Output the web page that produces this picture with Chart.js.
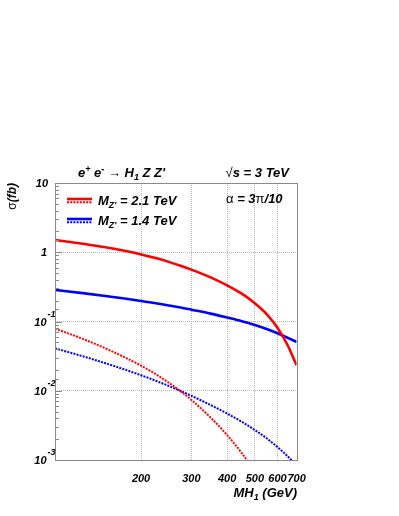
<!DOCTYPE html>
<html><head><meta charset="utf-8">
<script src="https://cdn.jsdelivr.net/npm/chart.js@4.4.1/dist/chart.umd.min.js"></script>
<style>html,body{margin:0;padding:0;background:#fff;}canvas{display:block;}</style>
</head><body>
<canvas id="c" width="399" height="516"></canvas>
<script>
// MH1 (GeV)
const mh = [100,125,150,175,200,225,250,275,300,350,400,450,500,550,600,650,700];
// sigma (fb), M_Z' = 2.1 TeV, solid
const sigmaZ21Solid = [1.50,1.327,1.178,1.048,0.931,0.823,0.726,0.639,0.561,0.433,0.333,0.252,0.184,0.128,0.0813,0.0462,0.0234];
// sigma (fb), M_Z' = 2.1 TeV, dotted
const sigmaZ21Dotted = [0.079,0.0561,0.0410,0.0305,0.0230,0.0174,0.01305,0.00984,0.00737,0.00411,0.00229,0.00126,0.00068,null,null,null,null];
// sigma (fb), M_Z' = 1.4 TeV, solid
const sigmaZ14Solid = [0.286,0.257,0.234,0.2145,0.198,0.1835,0.170,0.159,0.148,0.130,0.114,0.101,0.089,0.078,0.0678,0.0586,0.0506];
// sigma (fb), M_Z' = 1.4 TeV, dotted
const sigmaZ14Dotted = [0.041,0.0315,0.0250,0.0203,0.01675,0.01396,0.01172,0.00994,0.00845,0.00623,0.00469,0.00357,0.00271,0.00206,0.00154,0.00114,0.00084];

const xTickValues = [200,300,400,500,600,700];
const yDecadeExponents = [-3,-2,-1,0,1];
const legendMasses = ['2.1','1.4'];
const seriesColors = ['#ff0000','#0000ff'];

const FAM = '"Liberation Sans", Arial, Helvetica, sans-serif';
const BI = s => `italic bold ${s}px ${FAM}`;
const NR = s => `${s}px "Liberation Sans", "DejaVu Sans", sans-serif`;

function rich(ctx, x, y, parts, align) {
  let w = 0;
  parts.forEach(p => { ctx.font = p.f; p.w = ctx.measureText(p.t).width; w += p.w; });
  let cx = align === 'right' ? x - w : (align === 'center' ? x - w / 2 : x);
  ctx.textAlign = 'left';
  ctx.textBaseline = 'alphabetic';
  parts.forEach(p => { ctx.font = p.f; ctx.fillText(p.t, cx, y + (p.dy || 0)); cx += p.w; });
}

function ds(vals, color, dotted) {
  return {
    data: mh.map((x, i) => ({x: x, y: vals[i]})).filter(p => p.y != null),
    borderColor: color,
    borderWidth: dotted ? 2 : 2.6,
    borderDash: dotted ? [2, 1.2] : [],
    borderCapStyle: 'butt',
    pointRadius: 0,
    cubicInterpolationMode: 'monotone',
    fill: false,
    clip: 0
  };
}

const isDecade = v => v > 0 && Math.abs(Math.log10(v) - Math.round(Math.log10(v))) < 1e-6;

const decor = {
  id: 'decor',
  afterDraw(chart) {
    const ctx = chart.ctx;
    const a = chart.chartArea;
    const ys = chart.scales.y;
    ctx.save();
    // frame
    ctx.strokeStyle = '#8a8a8a';
    ctx.lineWidth = 1;
    ctx.setLineDash([]);
    ctx.strokeRect(Math.round(a.left) + 0.5, Math.round(a.top) + 0.5, Math.round(a.right - a.left), Math.round(a.bottom - a.top));
    // y ticks (inside)
    ys.ticks.forEach(t => {
      const py = Math.round(ys.getPixelForValue(t.value)) + 0.5;
      const len = isDecade(t.value) ? 7 : 4;
      ctx.beginPath();
      ctx.moveTo(a.left, py);
      ctx.lineTo(a.left + len, py);
      ctx.stroke();
    });
    // y tick labels
    ctx.fillStyle = '#000';
    yDecadeExponents.forEach(e => {
      const py = ys.getPixelForValue(Math.pow(10, e));
      if (e === 1) {
        rich(ctx, 48, py + 4, [{t: '10', f: BI(11)}], 'right');
      } else if (e === 0) {
        rich(ctx, 47, py + 4, [{t: '1', f: BI(11)}], 'right');
      } else {
        ctx.font = BI(9);
        const ew = ctx.measureText(String(e)).width;
        rich(ctx, 55.5, py - 5, [{t: String(e), f: BI(9)}], 'right');
        rich(ctx, 55 - ew - 0.5, py + 4, [{t: '10', f: BI(11)}], 'right');
      }
    });
    // y title
    ctx.save();
    ctx.translate(16, a.top);
    ctx.rotate(-Math.PI / 2);
    rich(ctx, 0, 0, [{t: 'σ', f: NR(12)}, {t: '(fb)', f: BI(12)}], 'right');
    ctx.restore();
    // x title
    rich(ctx, 297, 497, [{t: 'MH', f: BI(13)}, {t: '1', f: BI(9), dy: 3}, {t: ' (GeV)', f: BI(13)}], 'right');
    // top texts
    rich(ctx, 78, 177, [
      {t: 'e', f: BI(13)}, {t: '+', f: BI(9), dy: -5}, {t: ' e', f: BI(13)}, {t: '-', f: BI(9), dy: -5},
      {t: ' ', f: BI(13)}, {t: '→', f: NR(13)}, {t: ' H', f: BI(13)}, {t: '1', f: BI(9), dy: 3},
      {t: ' Z Z\'', f: BI(13)}
    ], 'left');
    rich(ctx, 289, 177, [{t: '√', f: NR(13)}, {t: 's = 3 TeV', f: BI(13)}], 'right');
    rich(ctx, 226, 203, [{t: 'α', f: NR(13)}, {t: ' = 3', f: BI(13)}, {t: 'π', f: NR(13)}, {t: '/10', f: BI(13)}], 'left');
    // legend
    const legY = [199, 219];
    legendMasses.forEach((m, i) => {
      const y = legY[i];
      ctx.strokeStyle = seriesColors[i];
      ctx.lineWidth = 2.6;
      ctx.setLineDash([]);
      ctx.beginPath(); ctx.moveTo(67, y); ctx.lineTo(92, y); ctx.stroke();
      ctx.lineWidth = 2;
      ctx.setLineDash([2, 1.2]);
      ctx.beginPath(); ctx.moveTo(67, y + 3.3); ctx.lineTo(92, y + 3.3); ctx.stroke();
      ctx.setLineDash([]);
      ctx.fillStyle = '#000';
      rich(ctx, 98, y + 6, [{t: 'M', f: BI(13)}, {t: 'Z\'', f: BI(9), dy: 3}, {t: ' = ' + m + ' TeV', f: BI(13)}], 'left');
    });
    ctx.restore();
  }
};

new Chart(document.getElementById('c'), {
  type: 'line',
  data: {
    datasets: [
      ds(sigmaZ21Solid, seriesColors[0], false),
      ds(sigmaZ14Solid, seriesColors[1], false),
      ds(sigmaZ21Dotted, seriesColors[0], true),
      ds(sigmaZ14Dotted, seriesColors[1], true)
    ]
  },
  options: {
    responsive: false,
    animation: false,
    devicePixelRatio: 1,
    layout: {padding: {left: 0, top: 183, right: 102.4, bottom: 0}},
    plugins: {legend: {display: false}, tooltip: {enabled: false}},
    scales: {
      x: {
        type: 'logarithmic',
        min: 100, max: 700,
        afterFit: s => { s.height = 56; },
        border: {display: false, dash: [1, 1]},
        grid: {
          drawTicks: false,
          lineWidth: 1,
          color: c => (c.tick && xTickValues.includes(Math.round(c.tick.value)) && Math.round(c.tick.value) !== 700) ? '#b8b8b8' : 'rgba(0,0,0,0)'
        },
        ticks: {
          autoSkip: false, maxRotation: 0, minRotation: 0, padding: 12,
          color: '#000',
          font: {family: FAM, style: 'italic', weight: 'bold', size: 11},
          callback: v => xTickValues.includes(Math.round(v)) ? String(Math.round(v)) : ''
        }
      },
      y: {
        type: 'logarithmic',
        min: 0.001, max: 10,
        afterFit: s => { s.width = 55; },
        border: {display: false, dash: [1, 1]},
        grid: {
          drawTicks: false,
          lineWidth: 1,
          color: c => (c.tick && isDecade(c.tick.value) && c.tick.value > 0.002 && c.tick.value < 5) ? '#b8b8b8' : 'rgba(0,0,0,0)'
        },
        ticks: {display: false}
      }
    }
  },
  plugins: [decor]
});
</script>
</body></html>
